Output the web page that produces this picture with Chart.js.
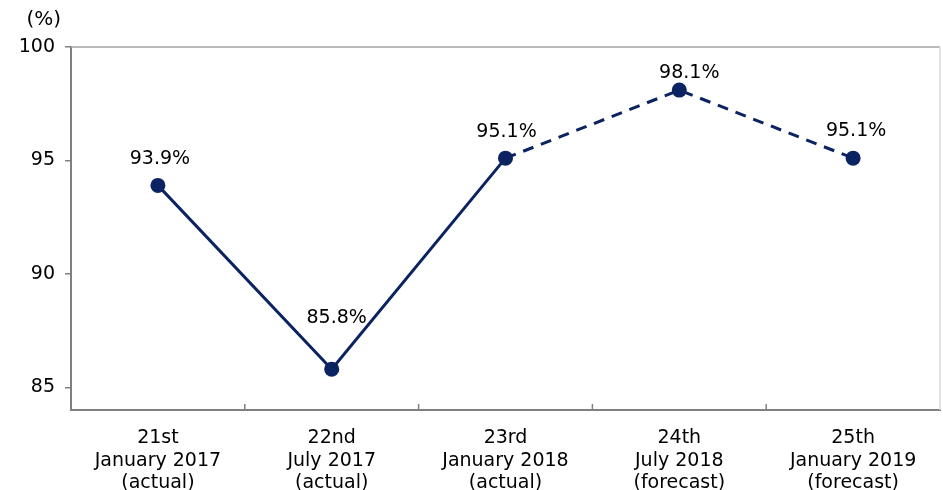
<!DOCTYPE html>
<html>
<head>
<meta charset="utf-8">
<script src="https://cdn.jsdelivr.net/npm/chart.js@4"></script>
<style>
  html, body { margin: 0; padding: 0; background: #fff; overflow: hidden; }
  #wrap { width: 943px; height: 490px; }
</style>
</head>
<body>
<div id="wrap"><canvas id="show_chart"></canvas></div>
<script>
const categories = [
    ['21st', 'January 2017', '(actual)'],
    ['22nd', 'July 2017', '(actual)'],
    ['23rd', 'January 2018', '(actual)'],
    ['24th', 'July 2018', '(forecast)'],
    ['25th', 'January 2019', '(forecast)']
]
const rates = [93.9, 85.8, 95.1, 98.1, 95.1]
const yTicks = [85, 90, 95, 100]
const firstForecast = 2   // segments starting here are dashed

const navy = '#0b2461'
const font = { family: '"DejaVu Sans", Verdana, sans-serif', size: 19, lineHeight: 1.18 }

// ===== LABELS, FRAME AND INNER TICKS =====
const extras = {
    id: 'extras',
    afterDatasetsDraw(chart) {
        const c = chart.ctx
        const area = chart.chartArea
        const x = chart.scales.x
        const y = chart.scales.y

        // top and right frame
        c.save()
        c.lineWidth = 1.5
        c.strokeStyle = '#a6a6a6'
        c.beginPath()
        c.moveTo(area.left, area.top)
        c.lineTo(area.right, area.top)
        c.stroke()
        c.strokeStyle = '#d9d9d9'
        c.beginPath()
        c.moveTo(area.right, area.top)
        c.lineTo(area.right, area.bottom)
        c.stroke()

        // inner tick marks between categories
        c.strokeStyle = '#808080'
        c.lineWidth = 1.5
        for (let i = 0; i < categories.length - 1; i++) {
            const px = (x.getPixelForTick(i) + x.getPixelForTick(i + 1)) / 2
            c.beginPath()
            c.moveTo(px, area.bottom)
            c.lineTo(px, area.bottom - 6)
            c.stroke()
        }

        // value labels
        c.fillStyle = '#000'
        c.font = font.size + 'px ' + font.family
        c.textAlign = 'center'
        c.textBaseline = 'bottom'
        const offsets = [[2, -17], [5, -42], [1, -17], [10, -8], [3, -18]]
        chart.getDatasetMeta(0).data.forEach((pt, i) => {
            c.fillText(rates[i].toFixed(1) + '%', pt.x + offsets[i][0], pt.y + offsets[i][1])
        })

        // unit
        c.font = '20px ' + font.family
        c.textAlign = 'right'
        c.fillText('(%)', y.right - 10, area.top - 17)
        c.restore()
    }
}

new Chart(document.querySelector('#show_chart').getContext('2d'), {
    type: 'line',
    data: {
        labels: categories,
        datasets: [
            {
                data: rates,
                borderColor: navy,
                backgroundColor: navy,
                borderWidth: 3,
                pointRadius: 7.5,
                pointHoverRadius: 7.5,
                pointBorderWidth: 0,
                tension: 0,
                segment: {
                    borderDash: ctx => ctx.p0DataIndex >= firstForecast ? [11, 8] : undefined
                }
            }
        ]
    },
    options: {
        responsive: true,
        maintainAspectRatio: false,
        animation: false,
        layout: { autoPadding: false, padding: { top: 47, right: 3, left: 0, bottom: 0 } },
        plugins: {
            legend: { display: false },
            tooltip: { enabled: false }
        },
        scales: {
            x: {
                offset: true,
                grid: { display: false, drawTicks: false },
                border: { color: '#808080', width: 2 },
                ticks: { color: '#000', font: font, padding: 17, maxRotation: 0, autoSkip: false },
                afterFit: s => { s.height = 80; s.paddingLeft = 0; s.paddingRight = 0 }
            },
            y: {
                min: 84,
                max: 100,
                afterBuildTicks: s => { s.ticks = yTicks.map(v => ({ value: v })) },
                grid: { drawOnChartArea: false, tickLength: 6, color: '#808080', lineWidth: 1.5 },
                border: { color: '#808080', width: 2 },
                ticks: { color: '#000', font: font, padding: 10 },
                afterFit: s => { s.width = 71 }
            }
        }
    },
    plugins: [extras]
})
</script>
</body>
</html>
